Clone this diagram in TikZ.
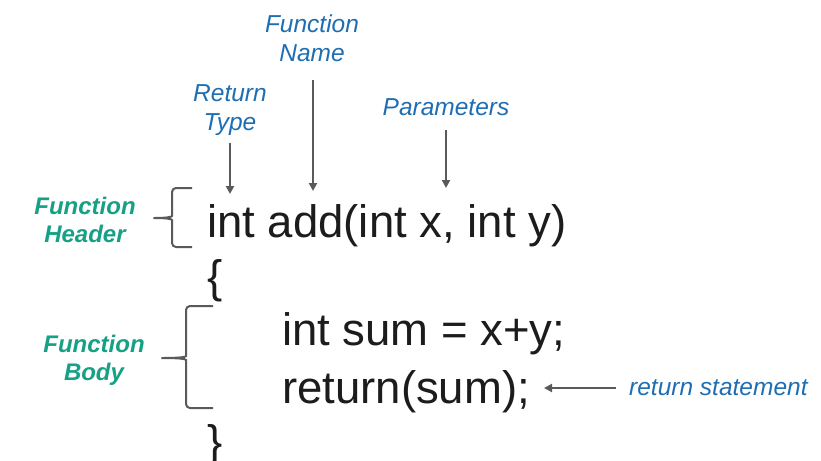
\documentclass[tikz,border=0pt]{standalone}
\usepackage{fontspec}
\setmainfont{Liberation Sans}
\usetikzlibrary{arrows.meta}
\definecolor{codeink}{HTML}{1C1C1C}
\definecolor{notecol}{RGB}{30,110,180}
\definecolor{partcol}{HTML}{16A085}
\definecolor{linecol}{HTML}{5A5A5A}
\tikzset{
  code/.style={anchor=base west, inner sep=0pt, text=codeink,
    font=\fontsize{45.5}{50}\selectfont},
  note/.style={inner sep=0pt, align=center, text=notecol,
    font=\fontsize{24.5}{29}\selectfont\itshape},
  part/.style={inner sep=0pt, align=center, text=partcol,
    font=\fontsize{24}{28}\selectfont\bfseries\itshape},
  pointer/.style={draw=linecol, line width=2pt,
    -{Triangle[length=8pt,width=8pt]}},
  bracket/.style={draw=linecol, line width=2pt, rounded corners=4pt}
}
\begin{document}
\begin{tikzpicture}[x=1pt,y=-1pt]
\clip (0,0) rectangle (821,460);
\fill[white] (0,0) rectangle (821,460);

% source lines
\node[code] (header) at (207,237) {int add(int x, int y)};
\node[code] (open)   at (207,292) {\{};
\node[code] (sum)    at (282,345) {int sum = x+y;};
\node[code] (ret)    at (282,403) {return(sum);};
\node[code] (close)  at (207,457) {\}};

% annotations above the header
\node[note] (rtype) at (230,110) {Return\\Type};
\node[note] (fname) at (312,38)  {Function\\Name};
\node[note, anchor=base] (params) at (446,115) {Parameters};
\node[note, anchor=base west] (retnote) at (629,395) {return statement};

% part labels on the left
\node[part] (hdr)  at (85,220)  {Function\\Header};
\node[part] (body) at (94,360)  {Function\\Body};

% arrow end points
\coordinate (rtypeS) at (230,143);
\coordinate (rtypeE) at (230,194);
\coordinate (fnameS) at (313,80);
\coordinate (fnameE) at (313,191);
\coordinate (paramS) at (446,130);
\coordinate (paramE) at (446,188);
\coordinate (retS)   at (616,388);
\coordinate (retE)   at (544,388);

\draw[pointer] (rtypeS) -- (rtypeE);
\draw[pointer] (fnameS) -- (fnameE);
\draw[pointer] (paramS) -- (paramE);
\draw[pointer] (retS) -- (retE);

% braces
\draw[bracket] (192,188) -| (172,212)
  .. controls (172,217) and (166,218) .. (151,218)
  .. controls (166,218) and (172,219) .. (172,224) |- (192,247);
\draw[bracket] (213,306) -| (186,352)
  .. controls (186,357) and (180,358) .. (159,358)
  .. controls (180,358) and (186,359) .. (186,364) |- (213,408);
\end{tikzpicture}
\end{document}
